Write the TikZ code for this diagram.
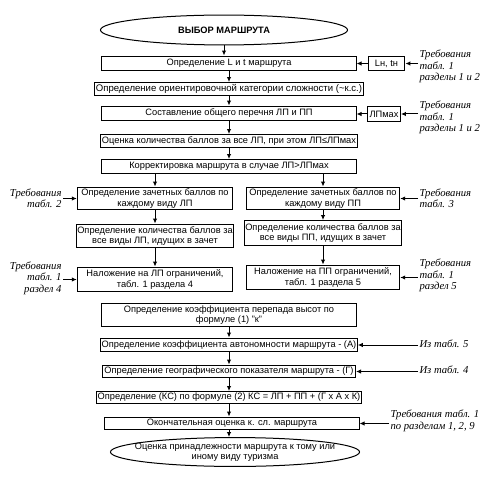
\documentclass[tikz,border=0pt]{standalone}
\usepackage{fontspec}
\setmainfont{Liberation Sans}
\newfontfamily\reqfont{Liberation Serif}
\usetikzlibrary{arrows.meta, shapes.geometric}

\begin{document}
\begin{tikzpicture}[x = 1bp, y = -1bp, >={Latex[length=5bp, width=4.5bp]},
  box/.style = {draw, line width = 1bp, align = center, inner sep = 1bp,
    font = \fontsize{9.3}{10.5}\selectfont},
  oval/.style = {box, ellipse, inner ysep = 0bp},
  req/.style = {inner sep = 1bp, font = \reqfont\itshape\fontsize{10.7}{11.5}\selectfont},
  every path/.style = {line width = 1bp}]

\useasboundingbox (0, 0) rectangle (492, 477);

\def\midx{229}

  % main column
  \node[oval, minimum width = 248, minimum height = 30, font = \fontsize{9.3}{10.5}\selectfont\bfseries] (start) at (224, 30) {ВЫБОР МАРШРУТА};
  \node[box, minimum width = 255, minimum height = 15] (b1) at (\midx, 63.5) {Определение L и t маршрута};
  \node[box, minimum width = 256, minimum height = 13, font = \fontsize{9.6}{11}\selectfont] (b2) at (\midx, 89) {Определение ориентировочной категории сложности (\textasciitilde к.с.)};
  \node[box, minimum width = 255, minimum height = 15] (b3) at (\midx, 113.5) {Составление общего перечня ЛП и ПП};
  \node[box, minimum width = 255, minimum height = 13] (b4) at (\midx, 141) {Оценка количества баллов за все ЛП, при этом ЛП≤ЛПмах};
  \node[box, minimum width = 256, minimum height = 14] (b5) at (\midx, 166.5) {Корректировка маршрута в случае ЛП>ЛПмах};

  % two columns
  \node[box, minimum width = 156, minimum height = 23] (L1) at (155, 198.5) {Определение зачетных баллов по\\каждому виду ЛП};
  \node[box, minimum width = 156, minimum height = 24] (L2) at (155, 236) {Определение количества баллов за\\все виды ЛП, идущих в зачет};
  \node[box, minimum width = 156, minimum height = 25] (L3) at (155, 279.5) {Наложение на ЛП ограничений,\\табл. 1 раздела 4};
  \node[box, minimum width = 154, minimum height = 23] (R1) at (323, 198.5) {Определение зачетных баллов по\\каждому виду ПП};
  \node[box, minimum width = 154, minimum height = 25] (R2) at (323, 233) {Определение количества баллов за\\все виды ПП, идущих в зачет};
  \node[box, minimum width = 154, minimum height = 25] (R3) at (323, 277.5) {Наложение на ПП ограничений,\\табл. 1 раздела 5};

  \node[box, minimum width = 255, minimum height = 24] (b9) at (\midx, 315) {Определение коэффициента перепада высот по\\формуле (1) "к"};
  \node[box, minimum width = 254, minimum height = 14] (b10) at (\midx, 345) {Определение коэффициента автономности маршрута - (А)};
  \node[box, minimum width = 254, minimum height = 13] (b11) at (\midx, 371.5) {Определение географического показателя маршрута - (Г)};
  \node[box, minimum width = 255, minimum height = 12] (b12) at (\midx, 397.5) {Определение (КС) по формуле (2) КС = ЛП + ПП + (Г x А x К)};
  \node[box, minimum width = 255, minimum height = 13] (b13) at (232, 423.5) {Окончательная оценка к. сл. маршрута};
  \node[oval, minimum width = 250, minimum height = 29, inner xsep = -30bp] (end) at (235, 452) {Оценка принадлежности маршрута к тому или\\иному виду туризма};

  % small boxes
  \node[box, minimum width = 37, minimum height = 15] (lt) at (386.5, 63.5) {Lн, tн};
  \node[box, minimum width = 33, minimum height = 15] (lpmax) at (384, 114) {ЛПмах};

  % requirements
  \node[req, anchor = west, align = left] (req1) at (418, 66.5) {Требования\\табл. 1\\разделы 1 и 2};
  \node[req, anchor = west, align = left] (req2) at (418, 117.5) {Требования\\табл. 1\\разделы 1 и 2};
  \node[req, anchor = west, align = left] (req3) at (418, 198) {Требования\\табл. 3};
  \node[req, anchor = west, align = left] (req4) at (418, 275.5) {Требования\\табл. 1\\раздел 5};
  \node[req, anchor = east, align = right] (req5) at (63, 198) {Требования\\табл. 2};
  \node[req, anchor = east, align = right] (req6) at (63, 278) {Требования\\табл. 1\\раздел 4};
  \node[req, anchor = west] (req7) at (418, 344) {Из табл. 5};
  \node[req, anchor = west] (req8) at (418, 370) {Из табл. 4};
  \node[req, anchor = west, align = left] (req9) at (389, 421) {Требования табл. 1\\по разделам 1, 2, 9};

  % arrows
  \draw[->] (start) -- (start |- b1.north);
  \foreach \a/\b in {b1/b2, b2/b3, b3/b4, b4/b5, b9/b10, b10/b11, b11/b12, b12/b13}
    \draw[->] (\a) -- (\a |- \b.north);
  \draw[->] (b13.south -| b12) -- (b12 |- end.north);

  \draw[->] (b5.south -| L1) -- (L1);
  \draw[->] (b5.south -| R1) -- (R1);
  \foreach \a/\b in {L1/L2, L2/L3, R1/R2, R2/R3}
    \draw[->] (\a) -- (\b);

  \draw[->] (lt) -- (lt -| b1.east);
  \draw[->] (lpmax) -- (lpmax -| b3.east);
  \draw[->] (req1.west |- lt) -- (lt);
  \draw[->] (req2.west |- lpmax) -- (lpmax);
  \draw[->] (req3.west |- R1) -- (R1);
  \draw[->] (req4.west |- R3) -- (R3);
  \draw[->] (req5.east |- L1) -- (L1);
  \draw[->] (req6.east |- L3) -- (L3);
  \draw[->] (req7.west |- b10) -- (b10);
  \draw[->] (req8.west |- b11) -- (b11);
  \draw[->] (req9.west |- b13) -- (b13);
\end{tikzpicture}
\end{document}
